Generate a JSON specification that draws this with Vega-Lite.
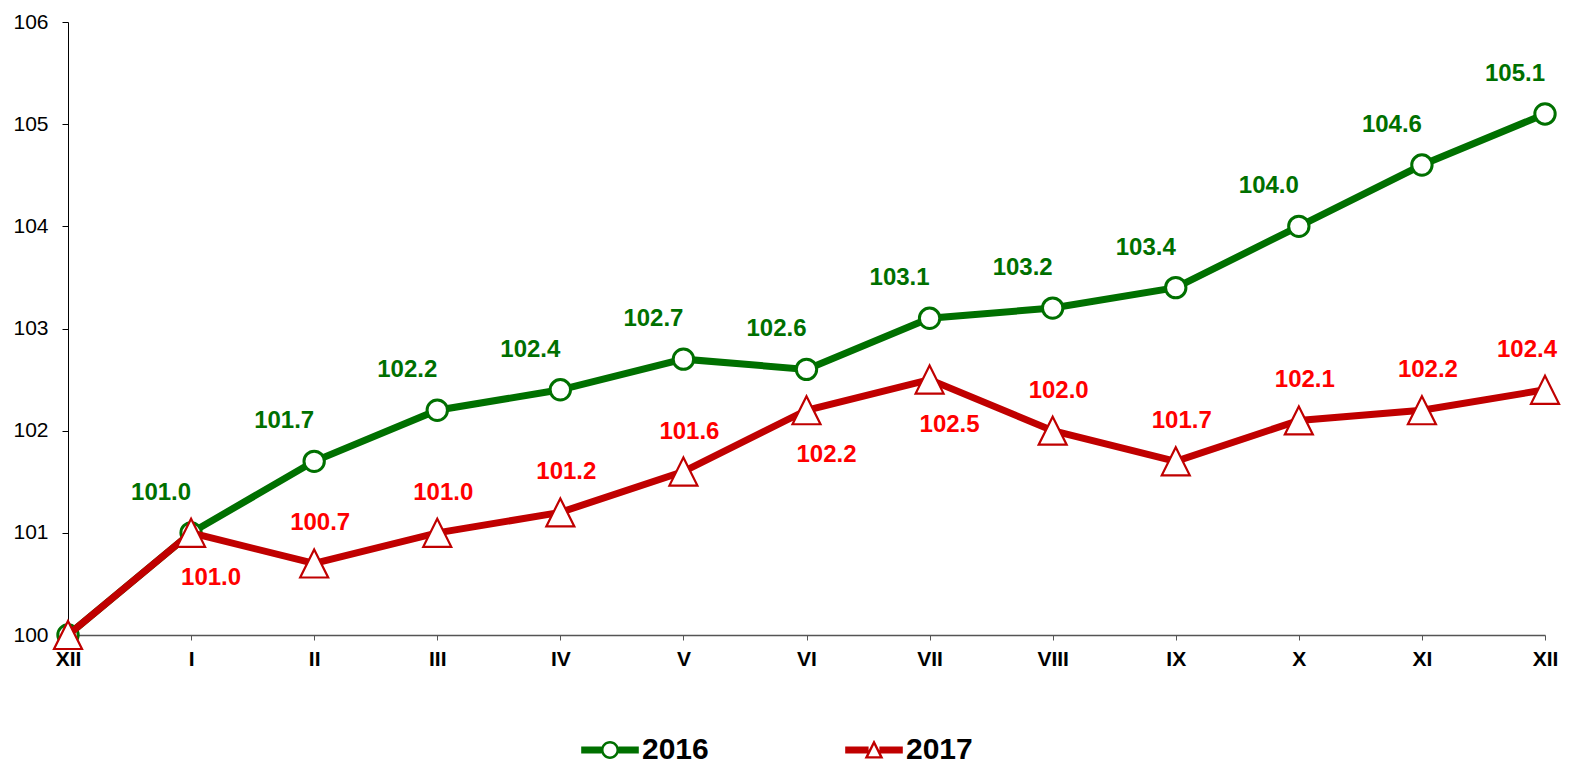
{
  "$schema": "https://vega.github.io/schema/vega-lite/v6.json",
  "width": 1477,
  "height": 613,
  "autosize": "none",
  "padding": {"left": 68, "top": 22, "right": 31, "bottom": 133},
  "background": "white",
  "config": {"view": {"stroke": null}, "font": "Liberation Sans"},
  "data": {"values": [
    {"i": 0, "m": "XII", "a": 100.0, "b": 100.0},
    {"i": 1, "m": "I", "a": 101.0, "b": 101.0},
    {"i": 2, "m": "II", "a": 101.7, "b": 100.7},
    {"i": 3, "m": "III", "a": 102.2, "b": 101.0},
    {"i": 4, "m": "IV", "a": 102.4, "b": 101.2},
    {"i": 5, "m": "V", "a": 102.7, "b": 101.6},
    {"i": 6, "m": "VI", "a": 102.6, "b": 102.2},
    {"i": 7, "m": "VII", "a": 103.1, "b": 102.5},
    {"i": 8, "m": "VIII", "a": 103.2, "b": 102.0},
    {"i": 9, "m": "IX", "a": 103.4, "b": 101.7},
    {"i": 10, "m": "X", "a": 104.0, "b": 102.1},
    {"i": 11, "m": "XI", "a": 104.6, "b": 102.2},
    {"i": 12, "m": "XII", "a": 105.1, "b": 102.4}
  ]},
  "encoding": {
    "x": {
      "field": "i", "type": "quantitative",
      "scale": {"domain": [0, 12], "nice": false, "zero": false},
      "axis": {
        "title": null, "grid": false,
        "values": [0,1,2,3,4,5,6,7,8,9,10,11,12],
        "labelExpr": "['XII','I','II','III','IV','V','VI','VII','VIII','IX','X','XI','XII'][datum.value]",
        "labelFont": "Liberation Sans", "labelFontSize": 21, "labelFontWeight": "bold", "labelColor": "black",
        "labelPadding": 8, "tickSize": 5, "tickColor": "#555", "domainColor": "#555", "domainWidth": 1.5,
        "labelFlush": false, "labelOverlap": false
      }
    }
  },
  "layer": [
    {
      "mark": {"type": "line", "strokeWidth": 7, "color": "#007000"},
      "encoding": {
        "y": {"field": "a", "type": "quantitative",
          "scale": {"domain": [100, 106], "nice": false, "zero": false},
          "axis": {"title": null, "grid": false, "values": [100,101,102,103,104,105,106], "format": "d",
            "labelFont": "Liberation Sans", "labelFontSize": 21, "labelColor": "black",
            "labelPadding": 14, "tickSize": 6, "tickColor": "black", "domainColor": "black"}},
        "color": {"datum": "2016", "type": "nominal",
          "scale": {"domain": ["2016", "2017"], "range": ["#007000", "#C00000"]},
          "legend": {
            "title": null, "orient": "none", "legendX": 527, "legendY": 713, "direction": "horizontal",
            "labelFont": "Liberation Sans", "labelFontSize": 30, "labelFontWeight": "bold", "labelColor": "black",
            "symbolSize": 324, "labelOffset": 17, "columnPadding": 136,
            "encode": {"symbols": {"update": {
              "shape": {"signal": "datum.value === '2016' ? 'M-3.2,-0.38H-0.95V0.38H-3.2Z M0.95,-0.38H3.2V0.38H0.95Z M-1,0A1,1 0 1,1 1,0A1,1 0 1,1 -1,0Z M-0.72,0A0.72,0.72 0 1,0 0.72,0A0.72,0.72 0 1,0 -0.72,0Z' : 'M-3.2,-0.38H-0.6V0.38H-3.2Z M0.6,-0.38H3.2V0.38H0.6Z M0,-1.15L1.05,0.95L-1.05,0.95Z M0,-0.55L-0.62,0.7L0.62,0.7Z'"},
              "fill": {"signal": "datum.value === '2016' ? '#007000' : '#C00000'"},
              "stroke": {"value": "transparent"},
              "strokeWidth": {"value": 0},
              "size": {"value": 324},
              "opacity": {"value": 1}
            }}}
          }}
      }
    },
    {
      "mark": {"type": "point", "shape": "circle", "size": 415, "filled": true, "fill": "white", "stroke": "#007000", "strokeWidth": 3, "opacity": 1},
      "encoding": {"y": {"field": "a", "type": "quantitative"}}
    },
    {
      "mark": {"type": "line", "strokeWidth": 7, "color": "#C00000"},
      "encoding": {
        "y": {"field": "b", "type": "quantitative"},
        "color": {"datum": "2017", "type": "nominal"}
      }
    },
    {
      "mark": {"type": "point", "shape": "M0,-1L1,1L-1,1Z", "size": 784, "filled": true, "fill": "white", "stroke": "#C00000", "strokeWidth": 2.2, "opacity": 1},
      "encoding": {"y": {"field": "b", "type": "quantitative"}}
    },
    {
      "transform": [{"filter": "datum.i > 0"}],
      "mark": {"type": "text", "font": "Liberation Sans", "fontSize": 24, "fontWeight": "bold", "color": "#007000", "dx": -30, "dy": -40, "baseline": "middle", "align": "center"},
      "encoding": {"y": {"field": "a", "type": "quantitative"}, "text": {"field": "a", "type": "quantitative", "format": ".1f"}}
    },
    {
      "transform": [{"filter": "datum.i > 0 && datum.a - datum.b >= 0.7"}],
      "mark": {"type": "text", "font": "Liberation Sans", "fontSize": 24, "fontWeight": "bold", "color": "#FF0000", "dx": {"expr": "datum.i === 12 ? -18 : 6"}, "dy": -40, "baseline": "middle", "align": "center"},
      "encoding": {"y": {"field": "b", "type": "quantitative"}, "text": {"field": "b", "type": "quantitative", "format": ".1f"}}
    },
    {
      "transform": [{"filter": "datum.i > 0 && datum.a - datum.b < 0.7"}],
      "mark": {"type": "text", "font": "Liberation Sans", "fontSize": 24, "fontWeight": "bold", "color": "#FF0000", "dx": 20, "dy": 45, "baseline": "middle", "align": "center"},
      "encoding": {"y": {"field": "b", "type": "quantitative"}, "text": {"field": "b", "type": "quantitative", "format": ".1f"}}
    }
  ]
}
